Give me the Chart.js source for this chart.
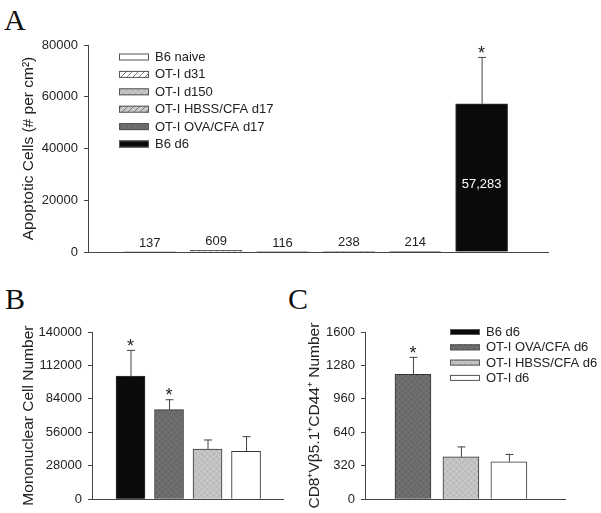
<!DOCTYPE html>
<html lang="en">
<head>
    <meta charset="UTF-8">
    <title>Apoptotic and mononuclear cells</title>
    <script src="https://cdn.jsdelivr.net/npm/chart.js"></script>
    <style>
        body { margin: 0; background: #fff; }
        #page { position: relative; width: 601px; height: 513px; overflow: hidden; }
        canvas { position: absolute; }
        .panel { position: absolute; font-family: "Liberation Serif", "Times New Roman", serif; font-size: 30px; color: #111; line-height: 1; }
    </style>
</head>
<body>
<div id="page">
    <div class="panel" style="left:4px; top:5px;">A</div>
    <div class="panel" style="left:5px; top:284px;">B</div>
    <div class="panel" style="left:288px; top:284px;">C</div>
    <canvas id="chartA" width="601" height="270" style="left:0; top:0;"></canvas>
    <canvas id="chartB" width="300" height="243" style="left:0; top:270px;"></canvas>
    <canvas id="chartC" width="301" height="243" style="left:300px; top:270px;"></canvas>
</div>
<script>
    // Panel A - apoptotic cells
    const catsA = ['B6 naive', 'OT-I d31', 'OT-I d150', 'OT-I HBSS/CFA d17', 'OT-I OVA/CFA d17', 'B6 d6'];
    const valsA = [137, 609, 116, 238, 214, 57283];
    const errA = [0, 0, 0, 0, 0, 18100];
    const textA = ['137', '609', '116', '238', '214', '57,283'];
    const starA = [false, false, false, false, false, true];
    const ticksA = [0, 20000, 40000, 60000, 80000];

    // Panel B - mononuclear cells
    const catsB = ['B6 d6', 'OT-I OVA/CFA d6', 'OT-I HBSS/CFA d6', 'OT-I d6'];
    const valsB = [103000, 75000, 42000, 40000];
    const errB = [22000, 8700, 8000, 12800];
    const starB = [true, true, false, false];
    const ticksB = [0, 28000, 56000, 84000, 112000, 140000];

    // Panel C - CD8+ Vb5.1+ CD44+ cells
    const catsC = ['OT-I OVA/CFA d6', 'OT-I HBSS/CFA d6', 'OT-I d6'];
    const valsC = [1195, 405, 358];
    const errC = [167, 100, 75];
    const starC = [true, false, false];
    const ticksC = [0, 320, 640, 960, 1280, 1600];
    const legendC = ['B6 d6', 'OT-I OVA/CFA d6', 'OT-I HBSS/CFA d6', 'OT-I d6'];

    Chart.defaults.font.family = '"Liberation Sans", Arial, sans-serif';
    Chart.defaults.font.size = 13;
    Chart.defaults.color = '#222';

    // small tile patterns for the grey / hatched fills
    function makePattern(kind) {
        const c = document.createElement('canvas');
        c.width = 6; c.height = 6;
        const g = c.getContext('2d');
        if (kind === 'hatch' || kind === 'hatchGrey') {
            g.fillStyle = kind === 'hatch' ? '#ffffff' : '#c9c9c9';
            g.fillRect(0, 0, 6, 6);
            g.strokeStyle = '#7a7a7a';
            g.lineWidth = 1;
            g.beginPath();
            g.moveTo(0, 6); g.lineTo(6, 0);
            g.moveTo(-1, 1); g.lineTo(1, -1);
            g.moveTo(5, 7); g.lineTo(7, 5);
            g.stroke();
        } else if (kind === 'light') {
            g.fillStyle = '#c2c2c2';
            g.fillRect(0, 0, 6, 6);
            g.fillStyle = '#aaaaaa';
            g.fillRect(0, 0, 1, 1); g.fillRect(3, 3, 1, 1);
            g.fillStyle = '#d2d2d2';
            g.fillRect(3, 0, 1, 1); g.fillRect(0, 3, 1, 1);
        } else if (kind === 'dark') {
            g.fillStyle = '#6c6c6c';
            g.fillRect(0, 0, 6, 6);
            g.fillStyle = '#5a5a5a';
            g.fillRect(0, 0, 1, 1); g.fillRect(3, 3, 1, 1);
            g.fillStyle = '#7c7c7c';
            g.fillRect(3, 0, 1, 1); g.fillRect(0, 3, 1, 1);
        }
        return document.createElement('canvas').getContext('2d').createPattern(c, 'repeat');
    }

    const fill = {
        white: '#ffffff',
        hatch: makePattern('hatch'),
        light: makePattern('light'),
        hatchGrey: makePattern('hatchGrey'),
        dark: makePattern('dark'),
        black: '#0a0a0a'
    };

    const fillsA = [fill.white, fill.hatch, fill.light, fill.hatchGrey, fill.dark, fill.black];
    const fillsB = [fill.black, fill.dark, fill.light, fill.white];
    const fillsC = [fill.dark, fill.light, fill.white];
    const legendFillsC = [fill.black, fill.dark, fill.light, fill.white];

    // error bars, stars and value labels
    function extras(err, stars, texts) {
        return {
            id: 'extras',
            afterDatasetsDraw(chart) {
                const ctx = chart.ctx;
                const xs = chart.scales.x, ys = chart.scales.y;
                const base = ys.getPixelForValue(0);
                chart.data.datasets[0].data.forEach((p, i) => {
                    const cx = xs.getPixelForValue(p.x);
                    const top = ys.getPixelForValue(p.y);
                    let capY = top;
                    ctx.save();
                    if (err[i]) {
                        capY = ys.getPixelForValue(p.y + err[i]);
                        ctx.strokeStyle = '#444';
                        ctx.lineWidth = 1;
                        ctx.beginPath();
                        ctx.moveTo(cx + 0.5, top);
                        ctx.lineTo(cx + 0.5, capY);
                        ctx.moveTo(cx - 3.5, capY + 0.5);
                        ctx.lineTo(cx + 4.5, capY + 0.5);
                        ctx.stroke();
                    }
                    if (stars[i]) {
                        ctx.fillStyle = '#222';
                        ctx.font = '18px "Liberation Sans", Arial, sans-serif';
                        ctx.textAlign = 'center';
                        ctx.textBaseline = 'alphabetic';
                        ctx.fillText('*', cx, capY + 2);
                    }
                    if (texts && texts[i]) {
                        ctx.font = '13px "Liberation Sans", Arial, sans-serif';
                        ctx.textAlign = 'center';
                        if (base - top > 40) {
                            ctx.fillStyle = '#ffffff';
                            ctx.textBaseline = 'middle';
                            ctx.fillText(texts[i], cx, (top + base) / 2 + 7);
                        } else {
                            ctx.fillStyle = '#222';
                            ctx.textBaseline = 'alphabetic';
                            ctx.fillText(texts[i], cx, top - 5);
                        }
                    }
                    ctx.restore();
                });
            }
        };
    }

    function boxLegend(labels, fills, x0, y0, step, sw, sh) {
        return {
            id: 'boxLegend',
            afterDraw(chart) {
                const ctx = chart.ctx;
                ctx.save();
                ctx.font = '13px "Liberation Sans", Arial, sans-serif';
                ctx.textBaseline = 'middle';
                ctx.textAlign = 'left';
                labels.forEach((lab, i) => {
                    const y = y0 + i * step;
                    ctx.fillStyle = fills[i];
                    ctx.fillRect(x0, y - sh / 2, sw, sh);
                    ctx.strokeStyle = '#555';
                    ctx.lineWidth = 1;
                    ctx.strokeRect(x0 + 0.5, y - sh / 2 + 0.5, sw - 1, sh - 1);
                    ctx.fillStyle = '#222';
                    ctx.fillText(lab, x0 + sw + 6, y + 0.5);
                });
                ctx.restore();
            }
        };
    }

    function makeChart(id, cfg) {
        const points = cfg.vals.map((v, i) => ({ x: i + 1, y: v }));
        return new Chart(document.getElementById(id), {
            type: 'bar',
            data: {
                datasets: [{
                    data: points,
                    backgroundColor: cfg.fills,
                    borderColor: '#333',
                    borderWidth: 1,
                    barThickness: cfg.barWidth
                }]
            },
            options: {
                responsive: false,
                animation: false,
                layout: { padding: cfg.padding },
                plugins: { legend: { display: false }, tooltip: { enabled: false } },
                scales: {
                    x: {
                        type: 'linear',
                        offset: false,
                        min: cfg.xMin,
                        max: cfg.xMax,
                        grid: { display: false, offset: false },
                        ticks: { display: false },
                        border: { display: true, color: '#444' },
                        afterFit: s => { s.height = 0; }
                    },
                    y: {
                        min: 0,
                        max: cfg.ticks[cfg.ticks.length - 1],
                        afterBuildTicks: s => { s.ticks = cfg.ticks.map(v => ({ value: v })); },
                        ticks: { padding: 6, callback: v => String(v), color: '#222' },
                        grid: { display: true, drawOnChartArea: false, drawTicks: true, tickLength: 4, color: '#444' },
                        border: { display: true, color: '#444' },
                        title: {
                            display: true,
                            text: cfg.title,
                            font: { size: 15.5 },
                            color: '#222',
                            padding: { top: cfg.titlePad, bottom: 0 }
                        },
                        afterFit: s => { s.width = cfg.axisWidth; }
                    }
                }
            },
            plugins: cfg.plugins
        });
    }

    makeChart('chartA', {
        vals: valsA, fills: fillsA, barWidth: 52, ticks: ticksA,
        xMin: 0.07, xMax: 7,
        padding: { left: 0, top: 45, right: 53, bottom: 18 },
        axisWidth: 88, titlePad: 19,
        title: 'Apoptotic Cells (# per cm\u00B2)',
        plugins: [extras(errA, starA, textA), boxLegend(catsA, fillsA, 119, 57, 17.4, 30, 7)]
    });

    makeChart('chartB', {
        vals: valsB, fills: fillsB, barWidth: 29, ticks: ticksB,
        xMin: 0, xMax: 4.96,
        padding: { left: 0, top: 62, right: 17, bottom: 12 },
        axisWidth: 92, titlePad: 19,
        title: 'Mononuclear Cell Number',
        plugins: [extras(errB, starB, null)]
    });

    makeChart('chartC', {
        vals: valsC, fills: fillsC, barWidth: 36, ticks: ticksC,
        xMin: 0, xMax: 4.17,
        padding: { left: 0, top: 62, right: 36, bottom: 11 },
        axisWidth: 65, titlePad: 5,
        title: 'CD8\u207AV\u03B25.1\u207ACD44\u207A Number',
        plugins: [extras(errC, starC, null), boxLegend(legendC, legendFillsC, 150, 62, 15.3, 30, 6)]
    });
</script>
</body>
</html>
